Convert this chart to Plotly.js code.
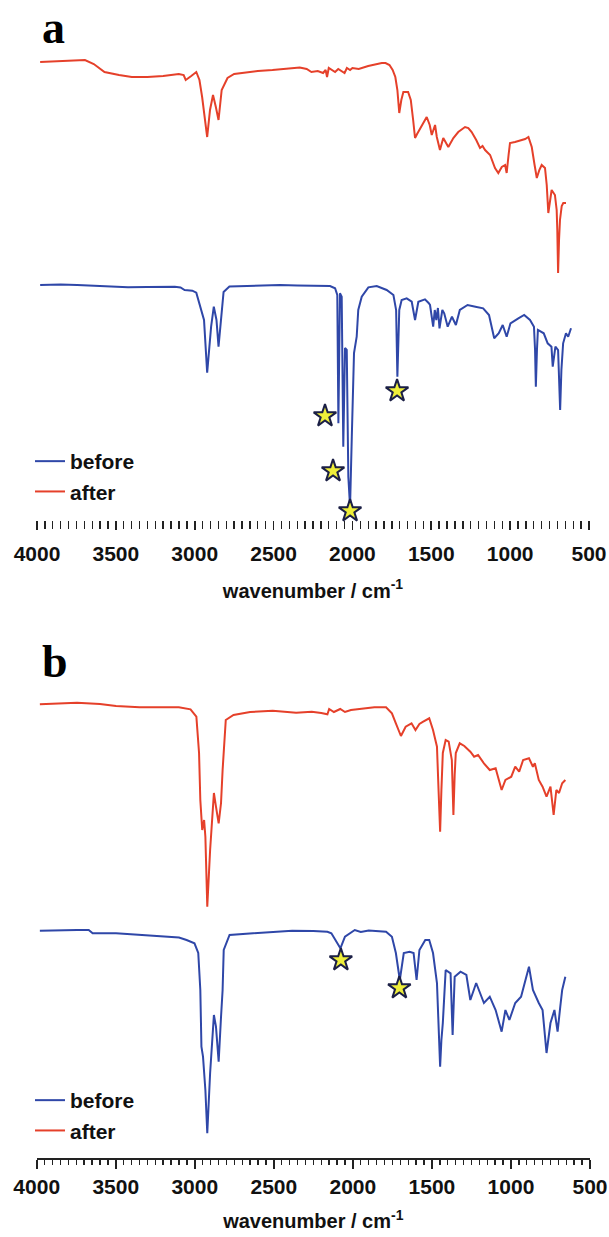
<!DOCTYPE html>
<html>
<head>
<meta charset="utf-8">
<script src="https://cdn.plot.ly/plotly-3.0.1.min.js"></script>
<style>html,body{margin:0;padding:0;background:#fff}#chart{width:609px;height:1237px}</style>
</head>
<body>
<div id="chart"></div>
<script>
// Panel a, "after" (red): wavenumber (cm-1) and relative transmittance (arb. units)
var aAfterWn = [3980,3850,3696,3640,3572,3480,3399,3300,3200,3101,3070,3057,3035,3022,2990,2970,2953,2935,2921,2903,2884,2866,2849,2829,2792,2750,2705,2600,2507,2420,2334,2290,2260,2220,2186,2170,2161,2150,2130,2110,2090,2070,2050,2035,2015,2000,1960,1900,1850,1814,1790,1765,1745,1728,1715,1703,1690,1677,1647,1630,1615,1603,1590,1560,1529,1510,1497,1476,1465,1445,1424,1392,1375,1360,1329,1286,1265,1244,1215,1191,1175,1159,1127,1110,1096,1075,1053,1032,1022,1010,1001,969,945,927,905,884,863,845,831,815,800,779,768,758,745,737,716,705,701,696,690,684,673,663,646];
var aAfterT  = [458,459,460,456,448,445,443,443,444,446,445,440,442,444,448,440,423,400,383,410,425,413,400,430,442,446,447,449,450,451,452.5,451,448,449,447,450,443,452,450,448,451,449,447,452,450,452,451,454,456,457,457,455,450,443,430,407,420,428,428,420,400,382,386,395,403,395,385,395,383,370,382,373,378,382,388,393,392,388,380,372,374,370,365,358,352,347,353,355,347,365,377,378,379,380,381,383,373,355,342,350,355,352,335,307,325,330,325,310,290,247,280,300,314,317,317];

// Panel a, "before" (blue)
var aBeforeWn = [3980,3850,3745,3600,3423,3300,3126,3090,3064,3030,3015,2990,2965,2941,2921,2896,2879,2862,2849,2829,2817,2780,2700,2600,2459,2350,2248,2142,2110,2096,2089,2079,2068,2058,2047,2036,2026,2015,2004,1990,1973,1963,1941,1899,1846,1783,1740,1723,1715,1703,1688,1656,1624,1603,1582,1540,1517,1508,1488,1478,1468,1458,1448,1430,1418,1396,1369,1344,1319,1270,1220,1171,1134,1101,1072,1047,1022,998,948,911,874,849,842,837,830,824,787,762,738,730,713,696,683,675,664,646,632,614];
var aBeforeT  = [235,235.5,235,234,232.7,233,233.3,232.5,230,229.5,229.3,227.3,213.3,200,147.3,193.3,213.3,200,173.3,210,228,233.5,234,234.5,235,234.5,234,234,231.7,225,96.7,226.7,223.3,73.3,172,170,43.3,13.3,83.3,167,183.3,210,223.3,232.7,234,230,225,210,143.3,210,220,221.7,218.3,200,218.3,220.7,217,215,193.3,210,200,212,191.7,210,206.7,193.3,203.3,195,210,215,213.3,211.7,205,181.7,186.7,195,183.3,196.7,201.7,205,200,193.3,170,133.3,170,190,186.7,176.7,173.3,153.3,173.3,170,110,150,176.7,186.7,183.3,191.7];

// Panel a, marked bands (stars)
var aStarWn = [2174,2123,2015,1717];
var aStarT  = [104,49,9,129];

// Panel b, "after" (red)
var bAfterWn = [3980,3850,3745,3600,3498,3349,3200,3101,3027,2990,2973,2965,2953,2941,2933,2921,2903,2884,2879,2866,2849,2834,2824,2804,2755,2650,2507,2359,2260,2200,2161,2150,2120,2080,2050,2012,1960,1864,1790,1753,1728,1696,1666,1629,1604,1579,1555,1517,1493,1468,1458,1448,1440,1431,1413,1394,1374,1364,1356,1349,1324,1295,1257,1233,1208,1171,1134,1097,1059,1035,998,973,948,923,886,861,849,824,800,775,750,730,713,696,676,656];
var bAfterT  = [453.7,455,455.3,454,452,450.7,451,450.7,448.7,441.3,405,358,328,338,321.3,251.3,308,351.3,365,351.3,334.7,355,388,438,443,446,447.3,445.3,446.3,445,443.7,449,446,449,446,448,449,450.7,450.7,444.7,434.7,422,431.3,434.7,428,434,436.3,439.7,428,411.3,368,326.3,368,405,418,416.3,398,343,383,405,414.7,412,406.3,401.3,403,394.7,388,389.7,368,378,381.3,391.3,386.3,398,399.7,391.3,394.7,378,371.3,361.3,371.3,343,368,365,374.7,378];

// Panel b, "before" (blue)
var bBeforeWn = [3980,3850,3745,3671,3646,3498,3350,3200,3100,3052,3002,2978,2965,2958,2948,2933,2921,2903,2879,2866,2849,2834,2824,2817,2780,2631,2500,2384,2250,2161,2136,2111,2079,2050,2012,1988,1950,1900,1790,1753,1728,1703,1678,1641,1616,1597,1579,1542,1517,1493,1468,1456,1448,1440,1431,1413,1382,1369,1356,1319,1282,1257,1220,1171,1134,1097,1059,1035,1010,973,936,886,861,824,800,775,750,725,705,688,676,656];
var bBeforeT  = [227.3,228,228,228,224.7,224.7,223,222,220.5,218,214.7,205,168,111.3,101.3,68,24.7,85,143,131.3,96.3,141.3,168,208,223,224.7,226,227.3,227,226.3,224.7,218,209.7,221.3,225.3,228,226,227.5,226.3,221.3,205,178,205,206.3,205,178,208,218,218,205,175,121.3,91.3,118,135,188,184.7,123,181.3,186.3,183,158,175,155,161.3,148,126.3,148,138,155,161.3,191.3,168,155,148,105,135,148,126.3,151.3,168,181.3];

// Panel b, marked bands (stars)
var bStarWn = [2076,1706];
var bStarT  = [198,170];

var seriesNames = ["before", "after"];
var tickVals = [4000, 3500, 3000, 2500, 2000, 1500, 1000, 500];
var tickText = ["4000", "3500", "3000", "2500", "2000", "1500", "1000", "500"];
var axisTitle = "wavenumber / cm<sup>-1</sup>";

var BLUE = "#2f47a8", RED = "#e5402a";
var lineW = 2;
var starMarker = {symbol: "star", size: 17, color: "#eeee3a", line: {color: "#1b1f45", width: 2}};

var traces = [
  {x: aBeforeWn, y: aBeforeT, xaxis: "x", yaxis: "y", mode: "lines", name: seriesNames[0], line: {color: BLUE, width: lineW}, legend: "legend"},
  {x: aAfterWn, y: aAfterT, xaxis: "x", yaxis: "y", mode: "lines", name: seriesNames[1], line: {color: RED, width: lineW}, legend: "legend"},
  {x: aStarWn, y: aStarT, xaxis: "x", yaxis: "y", mode: "markers", marker: starMarker, showlegend: false, cliponaxis: false},
  {x: bBeforeWn, y: bBeforeT, xaxis: "x2", yaxis: "y2", mode: "lines", name: seriesNames[0], line: {color: BLUE, width: lineW}, legend: "legend2"},
  {x: bAfterWn, y: bAfterT, xaxis: "x2", yaxis: "y2", mode: "lines", name: seriesNames[1], line: {color: RED, width: lineW}, legend: "legend2"},
  {x: bStarWn, y: bStarT, xaxis: "x2", yaxis: "y2", mode: "markers", marker: starMarker, showlegend: false, cliponaxis: false}
];

var FONT = "Liberation Sans, Arial, sans-serif";
var H = 1237, W = 609;
function py(p) { return 1 - p / H; }

function xAxis(anchor, domain, showLine, majorLen, minorLen, labelStandoff, titleStandoff) {
  return {
    anchor: anchor, domain: domain, range: [4000, 500], autorange: false,
    tickmode: "array", tickvals: tickVals, ticktext: tickText,
    ticks: "outside", ticklen: majorLen, tickwidth: 1.6, tickcolor: "#222",
    ticklabelstandoff: labelStandoff,
    minor: {tickmode: "linear", tick0: 500, dtick: 50, ticks: "outside", ticklen: minorLen, tickwidth: 1.4, tickcolor: "#222", showgrid: false},
    showline: showLine, linecolor: "#222", linewidth: 1.6,
    showgrid: false, zeroline: false,
    tickfont: {family: FONT, size: 21, color: "#111", weight: "bold"},
    title: {text: axisTitle, font: {family: FONT, size: 20, color: "#111", weight: "bold"}, standoff: titleStandoff},
    fixedrange: true
  };
}

var layout = {
  width: W, height: H,
  margin: {l: 0, r: 0, t: 0, b: 0},
  paper_bgcolor: "#fff", plot_bgcolor: "#fff",
  showlegend: true,
  xaxis: xAxis("y", [37 / W, 589 / W], false, 9, 8, 6, 19),
  yaxis: {domain: [py(520), py(30)], range: [0, 490], visible: false, fixedrange: true},
  xaxis2: xAxis("y2", [36.7 / W, 590 / W], true, 9, 5, 0, 17),
  yaxis2: {domain: [py(1158), py(680)], range: [0, 478], visible: false, fixedrange: true},
  legend: {x: 30 / W, xanchor: "left", y: py(441), yanchor: "top", bgcolor: "rgba(0,0,0,0)", borderwidth: 0,
           font: {family: FONT, size: 21, color: "#111", weight: "bold"}, traceorder: "normal", itemclick: false},
  legend2: {x: 30 / W, xanchor: "left", y: py(1080), yanchor: "top", bgcolor: "rgba(0,0,0,0)", borderwidth: 0,
           font: {family: FONT, size: 21, color: "#111", weight: "bold"}, traceorder: "normal", itemclick: false},
  annotations: [
    {text: "a", xref: "paper", yref: "paper", x: 40 / W, xanchor: "left", y: py(28), yanchor: "middle", showarrow: false,
     font: {family: "Liberation Serif, Times New Roman, serif", size: 46, color: "#000", weight: "bold"}},
    {text: "b", xref: "paper", yref: "paper", x: 40 / W, xanchor: "left", y: py(661), yanchor: "middle", showarrow: false,
     font: {family: "Liberation Serif, Times New Roman, serif", size: 46, color: "#000", weight: "bold"}}
  ]
};

Plotly.newPlot("chart", traces, layout, {displayModeBar: false, staticPlot: true});
</script>
</body>
</html>
